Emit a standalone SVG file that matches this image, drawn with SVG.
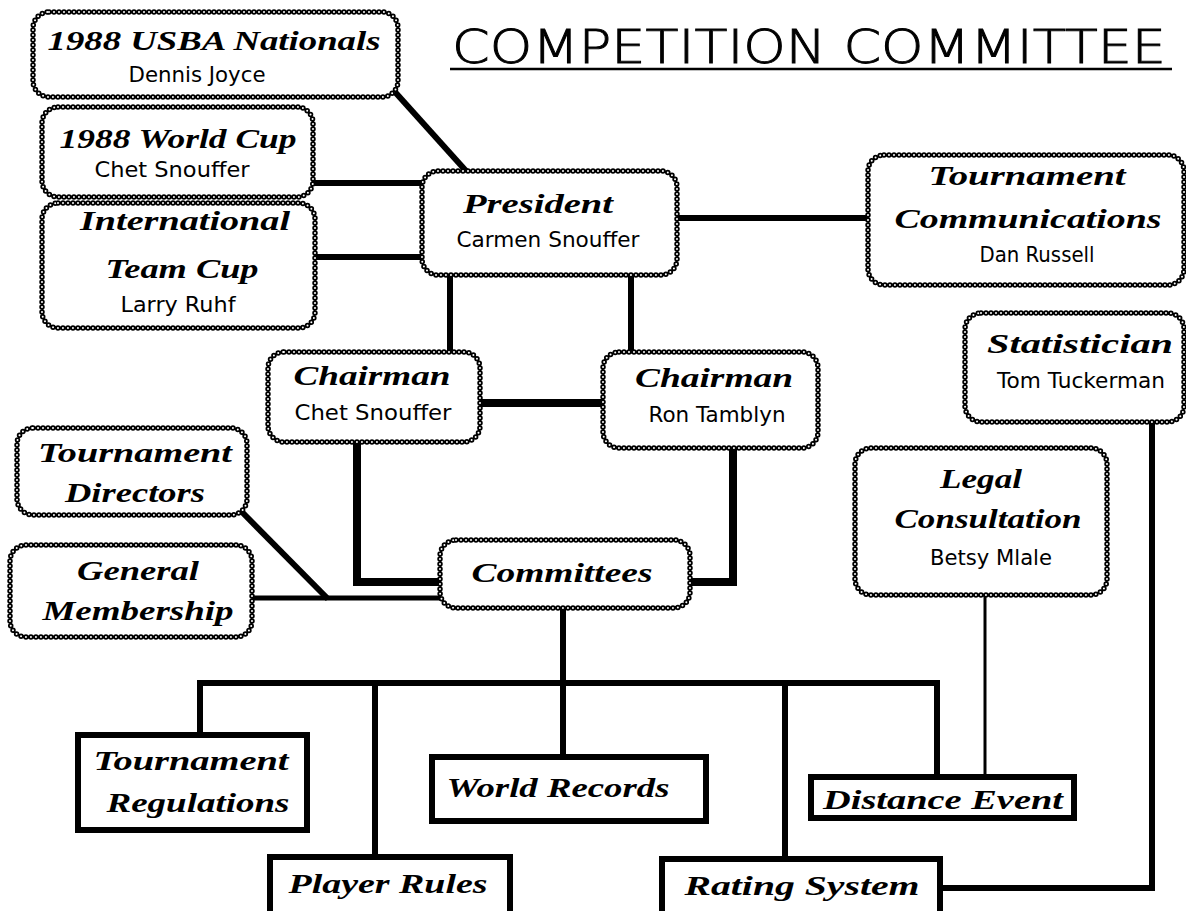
<svg xmlns="http://www.w3.org/2000/svg" width="1186" height="911" viewBox="0 0 1186 911">
<style>
.bg{fill:#fff}
.chain{fill:#fff;stroke:#000;stroke-width:5.5;stroke-dasharray:0 5;stroke-linecap:round}
.hole{fill:none;stroke:#fff;stroke-width:2;stroke-dasharray:0 5;stroke-linecap:round}
.box{fill:#fff;stroke:#000;stroke-width:6}
.t{font-family:"Liberation Serif","DejaVu Serif",serif;font-style:italic;font-weight:bold;font-size:27px;fill:#000;text-anchor:middle}
.n{font-family:"DejaVu Sans","Liberation Sans",sans-serif;font-size:21px;fill:#000;text-anchor:middle}
.c{fill:none;stroke:#000;stroke-linecap:butt}
.w8{stroke-width:8}.w6{stroke-width:6}.w5{stroke-width:5}.w3{stroke-width:3}
.title{font-family:"DejaVu Sans","Liberation Sans",sans-serif;font-weight:200;font-size:46px;fill:#000;stroke:#000;stroke-width:0.9}
</style>
<rect class="bg" x="0" y="0" width="1186" height="911"/>
<g id="title">
<text class="title" x="452" y="63" textLength="714" lengthAdjust="spacingAndGlyphs">COMPETITION COMMITTEE</text>
<line x1="450" y1="69" x2="1172" y2="69" stroke="#000" stroke-width="2.5"/>
</g>
<g id="connectors">
<line class="c w6" x1="395" y1="92" x2="467" y2="172"/>
<line class="c w6" x1="313" y1="183" x2="422" y2="183"/>
<line class="c w6" x1="315" y1="257" x2="422" y2="257"/>
<line class="c w6" x1="677" y1="218" x2="868" y2="218"/>
<line class="c w6" x1="450" y1="275" x2="450" y2="352"/>
<line class="c w6" x1="631" y1="275" x2="631" y2="352"/>
<line class="c w8" x1="480" y1="403" x2="603" y2="403"/>
<path class="c w8" d="M357,442 V582 H440"/>
<path class="c w8" d="M733,448 V582 H690"/>
<line class="c w6" x1="241" y1="511" x2="328" y2="599"/>
<line class="c w5" x1="252" y1="598" x2="440" y2="598"/>
<line class="c w6" x1="563" y1="608" x2="563" y2="683"/>
<path class="c w6" d="M200,735 V683 H937 V777"/>
<line class="c w6" x1="375" y1="683" x2="375" y2="857"/>
<line class="c w6" x1="563" y1="683" x2="563" y2="757"/>
<line class="c w6" x1="785" y1="683" x2="785" y2="859"/>
<line class="c w3" x1="985" y1="595" x2="985" y2="777"/>
<path class="c w6" d="M1152,422 V888 H940"/>
</g>
<g id="usba">
<rect class="chain" x="33" y="12" width="365" height="85" rx="16"/>
<rect class="hole" x="33" y="12" width="365" height="85" rx="16"/>
<text class="t" x="214" y="50" textLength="333" lengthAdjust="spacingAndGlyphs">1988 USBA Nationals</text>
<text class="n" x="197" y="82" textLength="137" lengthAdjust="spacingAndGlyphs">Dennis Joyce</text>
</g>
<g id="worldcup">
<rect class="chain" x="42" y="107" width="271" height="90" rx="16"/>
<rect class="hole" x="42" y="107" width="271" height="90" rx="16"/>
<text class="t" x="178" y="148" textLength="237" lengthAdjust="spacingAndGlyphs">1988 World Cup</text>
<text class="n" x="172" y="177" textLength="155" lengthAdjust="spacingAndGlyphs">Chet Snouffer</text>
</g>
<g id="international">
<rect class="chain" x="42" y="203" width="273" height="125" rx="16"/>
<rect class="hole" x="42" y="203" width="273" height="125" rx="16"/>
<text class="t" x="185" y="230" textLength="210" lengthAdjust="spacingAndGlyphs">International</text>
<text class="t" x="182" y="278" textLength="153" lengthAdjust="spacingAndGlyphs">Team Cup</text>
<text class="n" x="178" y="312" textLength="115" lengthAdjust="spacingAndGlyphs">Larry Ruhf</text>
</g>
<g id="president">
<rect class="chain" x="422" y="171" width="255" height="104" rx="16"/>
<rect class="hole" x="422" y="171" width="255" height="104" rx="16"/>
<text class="t" x="538" y="213" textLength="150" lengthAdjust="spacingAndGlyphs">President</text>
<text class="n" x="548" y="247" textLength="183" lengthAdjust="spacingAndGlyphs">Carmen Snouffer</text>
</g>
<g id="communications">
<rect class="chain" x="868" y="155" width="316" height="130" rx="16"/>
<rect class="hole" x="868" y="155" width="316" height="130" rx="16"/>
<text class="t" x="1027" y="185" textLength="197" lengthAdjust="spacingAndGlyphs">Tournament</text>
<text class="t" x="1028" y="228" textLength="267" lengthAdjust="spacingAndGlyphs">Communications</text>
<text class="n" x="1037" y="262" textLength="115" lengthAdjust="spacingAndGlyphs">Dan Russell</text>
</g>
<g id="statistician">
<rect class="chain" x="965" y="313" width="219" height="109" rx="16"/>
<rect class="hole" x="965" y="313" width="219" height="109" rx="16"/>
<text class="t" x="1080" y="353" textLength="186" lengthAdjust="spacingAndGlyphs">Statistician</text>
<text class="n" x="1081" y="388" textLength="168" lengthAdjust="spacingAndGlyphs">Tom Tuckerman</text>
</g>
<g id="legal">
<rect class="chain" x="855" y="448" width="252" height="147" rx="16"/>
<rect class="hole" x="855" y="448" width="252" height="147" rx="16"/>
<text class="t" x="981" y="488" textLength="82" lengthAdjust="spacingAndGlyphs">Legal</text>
<text class="t" x="988" y="528" textLength="187" lengthAdjust="spacingAndGlyphs">Consultation</text>
<text class="n" x="991" y="565" textLength="122" lengthAdjust="spacingAndGlyphs">Betsy Mlale</text>
</g>
<g id="chairman-chet">
<rect class="chain" x="268" y="352" width="212" height="90" rx="16"/>
<rect class="hole" x="268" y="352" width="212" height="90" rx="16"/>
<text class="t" x="372" y="385" textLength="157" lengthAdjust="spacingAndGlyphs">Chairman</text>
<text class="n" x="373" y="420" textLength="157" lengthAdjust="spacingAndGlyphs">Chet Snouffer</text>
</g>
<g id="chairman-ron">
<rect class="chain" x="603" y="352" width="215" height="96" rx="16"/>
<rect class="hole" x="603" y="352" width="215" height="96" rx="16"/>
<text class="t" x="714" y="387" textLength="158" lengthAdjust="spacingAndGlyphs">Chairman</text>
<text class="n" x="717" y="422" textLength="137" lengthAdjust="spacingAndGlyphs">Ron Tamblyn</text>
</g>
<g id="directors">
<rect class="chain" x="17" y="428" width="230" height="87" rx="16"/>
<rect class="hole" x="17" y="428" width="230" height="87" rx="16"/>
<text class="t" x="135" y="462" textLength="194" lengthAdjust="spacingAndGlyphs">Tournament</text>
<text class="t" x="135" y="502" textLength="140" lengthAdjust="spacingAndGlyphs">Directors</text>
</g>
<g id="membership">
<rect class="chain" x="10" y="545" width="242" height="92" rx="16"/>
<rect class="hole" x="10" y="545" width="242" height="92" rx="16"/>
<text class="t" x="138" y="580" textLength="122" lengthAdjust="spacingAndGlyphs">General</text>
<text class="t" x="138" y="620" textLength="191" lengthAdjust="spacingAndGlyphs">Membership</text>
</g>
<g id="committees">
<rect class="chain" x="440" y="540" width="250" height="68" rx="16"/>
<rect class="hole" x="440" y="540" width="250" height="68" rx="16"/>
<text class="t" x="562" y="582" textLength="181" lengthAdjust="spacingAndGlyphs">Committees</text>
</g>
<g id="regulations">
<rect class="box" x="78" y="735" width="229" height="95"/>
<text class="t" x="191" y="770" textLength="195" lengthAdjust="spacingAndGlyphs">Tournament</text>
<text class="t" x="198" y="812" textLength="183" lengthAdjust="spacingAndGlyphs">Regulations</text>
</g>
<g id="records">
<rect class="box" x="432" y="757" width="274" height="64"/>
<text class="t" x="558" y="797" textLength="223" lengthAdjust="spacingAndGlyphs">World Records</text>
</g>
<g id="distance">
<rect class="box" x="811" y="777" width="263" height="41"/>
<text class="t" x="943" y="809" textLength="240" lengthAdjust="spacingAndGlyphs">Distance Event</text>
</g>
<g id="playerrules">
<rect class="box" x="270" y="857" width="240" height="70"/>
<text class="t" x="388" y="893" textLength="199" lengthAdjust="spacingAndGlyphs">Player Rules</text>
</g>
<g id="rating">
<rect class="box" x="662" y="859" width="278" height="70"/>
<text class="t" x="802" y="895" textLength="235" lengthAdjust="spacingAndGlyphs">Rating System</text>
</g>
</svg>
